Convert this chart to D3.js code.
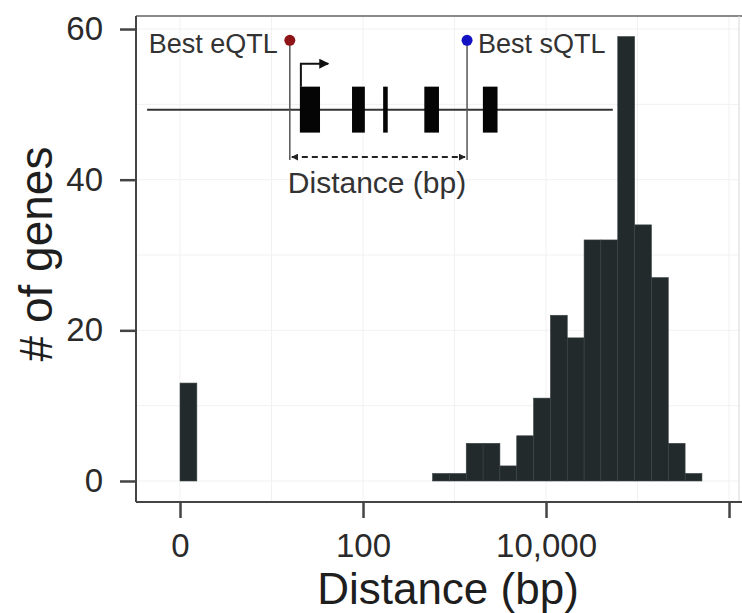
<!DOCTYPE html>
<html>
<head>
<meta charset="utf-8">
<script src="https://cdn.jsdelivr.net/npm/d3@7"></script>
<style>
  html, body { margin: 0; padding: 0; background: #fff; }
  text { font-family: "Liberation Sans", Arial, Helvetica, sans-serif; }
</style>
</head>
<body>
<script>

var w = 742;
var h = 613;

// histogram of log10(distance), one count per bin
var binWidth = 0.184;
var counts = [13, 0, 0, 0, 0, 0, 0, 0, 0, 0, 0, 0, 0, 0, 0,
              1, 1, 5, 5, 2, 6, 11, 22, 19, 32, 32, 59, 34, 27, 5, 1];

// x axis ticks (log10 space) and their labels
var xTicks = [0, 2, 4, 6];
var xTickLabels = ["0", "100", "10,000", ""];
var yTicks = [0, 20, 40, 60];

// gene schematic, drawn in the same data units
var geneSpan = [-0.36, 4.73];
var geneY = 49.3;
var exons = [[1.31, 1.53], [1.88, 2.02], [2.22, 2.27], [2.67, 2.83], [3.31, 3.47]];
var eqtlX = 1.20;
var sqtlX = 3.137;

var x = d3.scaleLinear().domain([-0.481, 6.109]).range([136, 739]);
var y = d3.scaleLinear().domain([-2.79, 61.73]).range([502, 16]);

var svg = d3.select("body").append("svg").attr("width", w).attr("height", h);

// faint grid
var grid = svg.append("g").attr("stroke", "#f1f1f1").attr("stroke-width", 1);
grid.selectAll("line.v").data(d3.range(0, 7)).enter().append("line")
  .attr("x1", function(d){ return x(d); }).attr("x2", function(d){ return x(d); })
  .attr("y1", 16).attr("y2", 502);
grid.selectAll("line.h").data(d3.range(0, 61, 10)).enter().append("line")
  .attr("y1", function(d){ return y(d); }).attr("y2", function(d){ return y(d); })
  .attr("x1", 136).attr("x2", 739);

// panel top / right border
svg.append("line").attr("x1", 136).attr("x2", 742).attr("y1", 16).attr("y2", 16)
  .attr("stroke", "#8a8a8a").attr("stroke-width", 2);
svg.append("line").attr("x1", 739).attr("x2", 739).attr("y1", 16).attr("y2", 502)
  .attr("stroke", "#d8d8d8").attr("stroke-width", 1);

// bars
var bins = counts.map(function(c, i){ return {x0: i * binWidth, x1: (i + 1) * binWidth, n: c}; })
  .filter(function(d){ return d.n > 0; });

svg.selectAll("rect.bar").data(bins).enter().append("rect")
  .attr("class", "bar")
  .attr("x", function(d){ return x(d.x0); })
  .attr("width", function(d){ return x(d.x1) - x(d.x0); })
  .attr("y", function(d){ return y(d.n); })
  .attr("height", function(d){ return y(0) - y(d.n); })
  .attr("fill", "#222a2c")
  .attr("stroke", "#3a4345")
  .attr("stroke-width", 0.6);

// axes
var yAxis = d3.axisLeft(y).tickValues(yTicks).tickSize(16).tickSizeOuter(0).tickPadding(17);
var xAxis = d3.axisBottom(x).tickValues(xTicks).tickSize(16).tickSizeOuter(0).tickPadding(16)
  .tickFormat(function(d, i){ return xTickLabels[i]; });

var gy = svg.append("g").attr("transform", "translate(136,0)").call(yAxis);
var gx = svg.append("g").attr("transform", "translate(0,502)").call(xAxis);

[gx, gy].forEach(function(g){
  g.select(".domain").attr("stroke", "#444").attr("stroke-width", 2);
  g.selectAll(".tick line").attr("stroke", "#444").attr("stroke-width", 2.5);
  g.selectAll(".tick text").attr("font-size", "33px").attr("fill", "#2a2a2a")
    .style("font-family", "'Liberation Sans', Arial, sans-serif");
});
gy.select(".domain").attr("d", "M0,16V502");
gx.select(".domain").attr("d", "M136,0H742");

// axis titles
svg.append("text").attr("x", 448).attr("y", 604)
  .attr("text-anchor", "middle").attr("font-size", "44px").attr("fill", "#1e1e1e")
  .text("Distance (bp)");
svg.append("text").attr("transform", "translate(52,254) rotate(-90)")
  .attr("text-anchor", "middle").attr("font-size", "46px").attr("fill", "#1e1e1e")
  .text("# of genes");

// ---- gene schematic ----
var sch = svg.append("g");

sch.append("line")
  .attr("x1", x(geneSpan[0])).attr("x2", x(geneSpan[1]))
  .attr("y1", y(geneY)).attr("y2", y(geneY))
  .attr("stroke", "#333").attr("stroke-width", 2);

sch.selectAll("rect.exon").data(exons).enter().append("rect")
  .attr("x", function(d){ return x(d[0]); })
  .attr("width", function(d){ return x(d[1]) - x(d[0]); })
  .attr("y", y(geneY + 3.05))
  .attr("height", y(geneY - 3.05) - y(geneY + 3.05))
  .attr("fill", "#050505");

// arrowheads
var defs = svg.append("defs");
defs.append("marker").attr("id", "ah").attr("viewBox", "0 0 10 10")
  .attr("refX", 9).attr("refY", 5).attr("markerWidth", 7).attr("markerHeight", 7)
  .attr("markerUnits", "userSpaceOnUse").attr("orient", "auto-start-reverse")
  .append("path").attr("d", "M0,0L10,5L0,10z").attr("fill", "#222");
defs.append("marker").attr("id", "ah2").attr("viewBox", "0 0 10 10")
  .attr("refX", 9).attr("refY", 5).attr("markerWidth", 10).attr("markerHeight", 10)
  .attr("markerUnits", "userSpaceOnUse").attr("orient", "auto-start-reverse")
  .append("path").attr("d", "M0,0L10,5L0,10z").attr("fill", "#111");

// TSS arrow
var tssX = exons[0][0];
sch.append("path")
  .attr("d", "M" + (x(tssX) + 1) + "," + y(geneY + 3.05) + "V" + y(55.4) + "H" + x(1.62))
  .attr("fill", "none").attr("stroke", "#111").attr("stroke-width", 2)
  .attr("marker-end", "url(#ah2)");

// QTL stems
[eqtlX, sqtlX].forEach(function(q){
  sch.append("line").attr("x1", x(q)).attr("x2", x(q))
    .attr("y1", y(58.5)).attr("y2", y(42.6))
    .attr("stroke", "#555").attr("stroke-width", 1.5);
});

// distance arrow
sch.append("line")
  .attr("x1", x(eqtlX) + 2).attr("x2", x(sqtlX) - 2)
  .attr("y1", y(43.0)).attr("y2", y(43.0))
  .attr("stroke", "#222").attr("stroke-width", 2).attr("stroke-dasharray", "6,4")
  .attr("marker-start", "url(#ah)").attr("marker-end", "url(#ah)");

// dots
sch.append("circle").attr("cx", x(eqtlX)).attr("cy", y(58.5)).attr("r", 5.5).attr("fill", "#8e1418");
sch.append("circle").attr("cx", x(sqtlX)).attr("cy", y(58.5)).attr("r", 5.5).attr("fill", "#1212c4");

sch.append("text").attr("x", x(eqtlX) - 12).attr("y", y(56.8))
  .attr("text-anchor", "end").attr("font-size", "27px").attr("fill", "#333")
  .text("Best eQTL");
sch.append("text").attr("x", x(sqtlX) + 11).attr("y", y(56.8))
  .attr("text-anchor", "start").attr("font-size", "27px").attr("fill", "#333")
  .text("Best sQTL");
sch.append("text").attr("x", x(eqtlX) - 2).attr("y", y(38.2))
  .attr("text-anchor", "start").attr("font-size", "30px").attr("fill", "#333")
  .text("Distance (bp)");

</script>
</body>
</html>
